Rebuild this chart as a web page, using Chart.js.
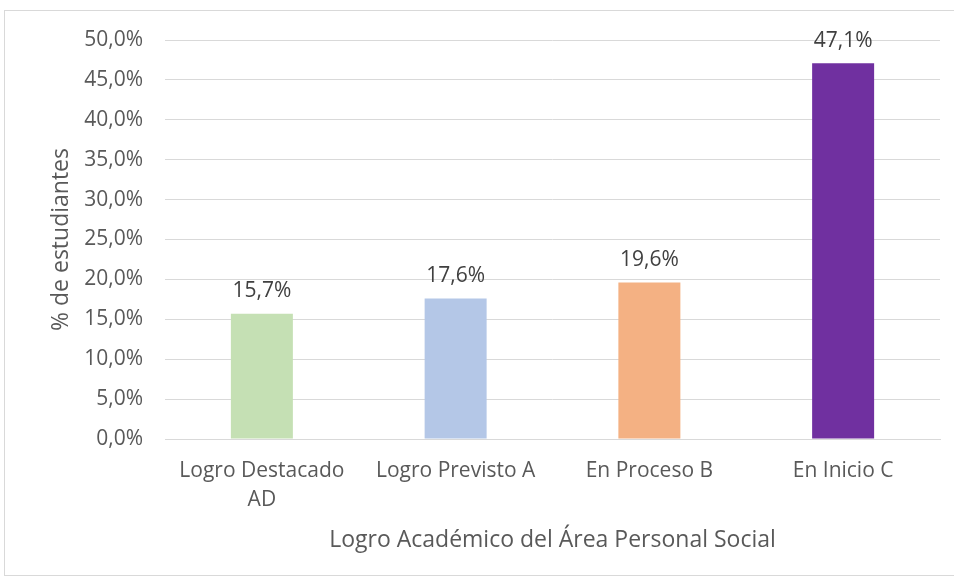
<!DOCTYPE html>
<html>
<head>
<meta charset="utf-8">
<script src="https://cdn.jsdelivr.net/npm/chart.js@4"></script>
<style>
  html, body { margin: 0; padding: 0; background: #fff; }
  #wrap { position: relative; width: 954px; height: 578px; }
  #frame { position: absolute; left: 4px; top: 10px; width: 960px; height: 564px; border: 1px solid #d9d9d9; }
  canvas { position: absolute; left: 0; top: 0; }
</style>
</head>
<body>
<div id="wrap">
  <div id="frame"></div>
  <canvas id="bars" width="954" height="578"></canvas>
</div>
<script>
var categories = [['Logro Destacado', 'AD'], 'Logro Previsto A', 'En Proceso B', 'En Inicio C'];
var percents = [15.7, 17.6, 19.6, 47.1];
var barColors = ['#C5E0B4', '#B4C7E7', '#F4B183', '#7030A0'];

function fmt(v) {
    return v.toFixed(1).replace('.', ',') + '%';
}

var labelPlugin = {
    id: 'valueLabels',
    afterDatasetsDraw: function (chart) {
        var ctx = chart.ctx;
        var meta = chart.getDatasetMeta(0);
        ctx.save();
        ctx.font = '21px "Open Sans"';
        ctx.fillStyle = '#404040';
        ctx.textAlign = 'center';
        ctx.textBaseline = 'bottom';
        meta.data.forEach(function (bar, i) {
            ctx.fillText(fmt(percents[i]), bar.x, bar.y - 12);
        });
        ctx.restore();
    }
};

var ctx = document.getElementById('bars').getContext('2d');
var myChart = new Chart(ctx, {
    type: 'bar',
    data: {
        labels: categories,
        datasets: [{
            data: percents,
            backgroundColor: barColors,
            borderWidth: 0,
            categoryPercentage: 1,
            barPercentage: 0.32
        }]
    },
    options: {
        responsive: false,
        animation: false,
        layout: { padding: { top: 40, right: 14, left: 0, bottom: 0 } },
        plugins: { legend: { display: false }, tooltip: { enabled: false } },
        scales: {
            y: {
                min: 0,
                max: 50,
                ticks: {
                    stepSize: 5,
                    padding: 22,
                    color: '#595959',
                    font: { family: 'Open Sans', size: 21 },
                    callback: function (v) { return fmt(v); }
                },
                grid: { color: '#d9d9d9', drawTicks: false },
                border: { display: false },
                title: {
                    display: true,
                    text: '% de estudiantes',
                    color: '#595959',
                    font: { family: 'Open Sans', size: 23 },
                    padding: { top: 48, bottom: 0 }
                },
                afterFit: function (s) { s.width = 165; }
            },
            x: {
                ticks: {
                    padding: 18,
                    color: '#595959',
                    maxRotation: 0,
                    font: { family: 'Open Sans', size: 21, lineHeight: 1.36 }
                },
                grid: { display: false, drawTicks: false },
                border: { color: '#d9d9d9' },
                title: {
                    display: true,
                    text: 'Logro Académico del Área Personal Social',
                    color: '#595959',
                    font: { family: 'Open Sans', size: 23 },
                    padding: { top: 0, bottom: 24 }
                },
                afterFit: function (s) { s.height = 139; }
            }
        }
    },
    plugins: [labelPlugin]
});
</script>
</body>
</html>
